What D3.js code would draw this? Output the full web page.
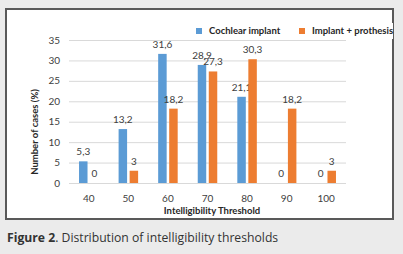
<!DOCTYPE html>
<html>
<head>
<meta charset="utf-8">
<script src="https://cdn.jsdelivr.net/npm/d3@7"></script>
<style>
  body { margin: 0; background: #ebebeb; }
  svg { display: block; }
</style>
</head>
<body>
<svg id="chart" width="403" height="254"></svg>
<script>
// chart data
var thresholds = ['40', '50', '60', '70', '80', '90', '100'];
var cochlear = [5.3, 13.2, 31.6, 28.9, 21.1, 0, 0];
var implantProsthesis = [0, 3, 18.2, 27.3, 30.3, 18.2, 3];
var seriesNames = ['Cochlear implant', 'Implant + prothesis'];
var seriesColors = ['#5b9bd5', '#ed7d31'];
var yTicks = [0, 5, 10, 15, 20, 25, 30, 35];

var svg = d3.select('#chart');
var font = 'Lato, "Open Sans", sans-serif';

// white chart panel with dark frame
svg.append('rect')
    .attr('x', 6).attr('y', 9)
    .attr('width', 387).attr('height', 210)
    .attr('fill', 'white')
    .attr('stroke', '#595959')
    .attr('stroke-width', 2);

var x0 = d3.scaleBand()
    .domain(thresholds)
    .range([69, 346]);

var x1 = d3.scaleBand()
    .domain([0, 1])
    .range([0, x0.bandwidth()])
    .paddingInner(0.23)
    .paddingOuter(0.91);

var y = d3.scaleLinear()
    .domain([0, 35])
    .range([183, 40]);

// gridlines
svg.append('g')
    .selectAll('line')
    .data(yTicks)
    .enter()
    .append('line')
    .attr('x1', 69).attr('x2', 346)
    .attr('y1', function(d) { return y(d) + 0.5; })
    .attr('y2', function(d) { return y(d) + 0.5; })
    .attr('stroke', '#d9d9d9')
    .attr('stroke-width', 1);

// y tick labels
svg.append('g')
    .selectAll('text')
    .data(yTicks)
    .enter()
    .append('text')
    .attr('x', 60)
    .attr('y', function(d) { return y(d) + 3.5; })
    .attr('text-anchor', 'end')
    .attr('font-family', font)
    .attr('font-size', 10)
    .attr('fill', '#404040')
    .text(function(d) { return d; });

// x tick labels
svg.append('g')
    .selectAll('text')
    .data(thresholds)
    .enter()
    .append('text')
    .attr('x', function(d) { return x0(d) + x0.bandwidth() / 2; })
    .attr('y', 202)
    .attr('text-anchor', 'middle')
    .attr('font-family', font)
    .attr('font-size', 10)
    .attr('fill', '#404040')
    .text(function(d) { return d; });

// bars + value labels
var series = [cochlear, implantProsthesis];
series.forEach(function(values, s) {
    var g = svg.append('g');
    var rows = thresholds.map(function(t, i) { return { cat: t, val: values[i] }; });

    g.selectAll('rect')
        .data(rows)
        .enter()
        .append('rect')
        .attr('x', function(d) { return x0(d.cat) + x1(s); })
        .attr('y', function(d) { return y(d.val); })
        .attr('width', x1.bandwidth())
        .attr('height', function(d) { return y(0) - y(d.val); })
        .attr('fill', seriesColors[s]);

    g.selectAll('text')
        .data(rows)
        .enter()
        .append('text')
        .attr('x', function(d) { return x0(d.cat) + x1(s) + x1.bandwidth() / 2; })
        .attr('y', function(d) { return y(d.val) - 6; })
        .attr('text-anchor', 'middle')
        .attr('font-family', font)
        .attr('font-size', 10)
        .attr('fill', '#404040')
        .text(function(d) { return String(d.val).replace('.', ','); });
});

// axis titles
svg.append('text')
    .attr('transform', 'translate(38,132) rotate(-90)')
    .attr('text-anchor', 'middle')
    .attr('font-family', font)
    .attr('font-size', 9.5)
    .attr('font-weight', 'bold')
    .attr('fill', '#262626')
    .text('Number of cases (%)');

svg.append('text')
    .attr('x', 212)
    .attr('y', 214)
    .attr('text-anchor', 'middle')
    .attr('font-family', font)
    .attr('font-size', 9.5)
    .attr('font-weight', 'bold')
    .attr('fill', '#262626')
    .text('Intelligibility Threshold');

// legend
svg.append('rect')
    .attr('x', 290).attr('y', 23)
    .attr('width', 103).attr('height', 16)
    .attr('fill', 'white');

var legendX = [196, 299];
var legend = svg.append('g')
    .selectAll('g')
    .data(seriesNames)
    .enter()
    .append('g')
    .attr('transform', function(d, i) { return 'translate(' + legendX[i] + ',0)'; });

legend.append('rect')
    .attr('x', 0).attr('y', 28)
    .attr('width', 6).attr('height', 6)
    .attr('fill', function(d, i) { return seriesColors[i]; });

legend.append('text')
    .attr('x', 13)
    .attr('y', 34)
    .attr('font-family', font)
    .attr('font-size', 9.5)
    .attr('font-weight', 'bold')
    .attr('fill', '#262626')
    .text(function(d) { return d; });

// caption
var caption = svg.append('text')
    .attr('x', 7)
    .attr('y', 242)
    .attr('font-family', '"Open Sans", sans-serif')
    .attr('font-size', 12.2)
    .attr('fill', '#333');
caption.append('tspan').attr('font-weight', 'bold').text('Figure 2');
caption.append('tspan').text('. Distribution of intelligibility thresholds');
</script>
</body>
</html>
